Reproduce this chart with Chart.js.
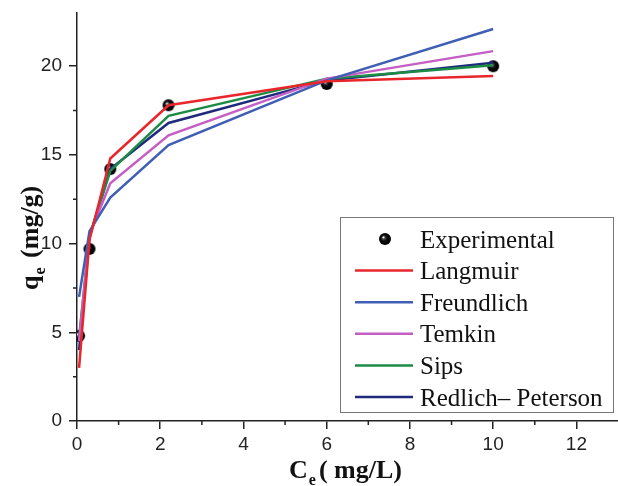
<!DOCTYPE html>
<html>
<head>
<meta charset="utf-8">
<script src="https://cdn.jsdelivr.net/npm/chart.js@4.4.0/dist/chart.umd.min.js"></script>
<style>
  html, body { margin: 0; padding: 0; background: #fff; }
</style>
</head>
<body>
<canvas id="chart" width="618" height="486"></canvas>
<script>
// Ce (mg/L) values where the data and model fits are given
const ce = [0.05, 0.3, 0.8, 2.2, 6, 10];
const experimental = [4.8, 9.7, 14.2, 17.8, 19.0, 20.0];
const langmuir = [3.0, 10.2, 14.8, 17.8, 19.15, 19.45];
const freundlich = [7.0, 10.7, 12.6, 15.55, 19.2, 22.1];
const temkin = [4.5, 10.5, 13.4, 16.1, 19.3, 20.85];
const sips = [4.7, 10.4, 14.1, 17.2, 19.3, 20.05];
const redlichPeterson = [4.0, 10.4, 14.2, 16.8, 19.2, 20.2];

const seriesLabels = ['Experimental', 'Langmuir', 'Freundlich', 'Temkin', 'Sips', 'Redlich\u2013 Peterson'];
const seriesColors = ['#000000', '#e8262c', '#3f5fb5', '#c55ec5', '#1d8b45', '#1f2a7d'];

const xTicks = [0, 2, 4, 6, 8, 10, 12];
const xMinor = [1, 3, 5, 7, 9, 11];
const yTicks = [0, 5, 10, 15, 20];
const yMinor = [2.5, 7.5, 12.5, 17.5];

const toPoints = (ys) => ce.map((x, i) => ({ x: x, y: ys[i] }));

// shaded black ball used for the experimental points
function makeBall(r) {
    const c = document.createElement('canvas');
    c.width = c.height = r * 2 + 2;
    const g = c.getContext('2d');
    const cx = r + 1;
    const grad = g.createRadialGradient(cx - r * 0.3, cx - r * 0.3, 0.3, cx, cx, r);
    grad.addColorStop(0, '#ffffff');
    grad.addColorStop(0.22, '#444444');
    grad.addColorStop(0.5, '#0a0a0a');
    grad.addColorStop(1, '#000000');
    g.fillStyle = grad;
    g.beginPath();
    g.arc(cx, cx, r, 0, Math.PI * 2);
    g.fill();
    return c;
}
const ball = makeBall(6);

function drawSub(ctx, base, sub, rest, x, y, size) {
    ctx.font = `bold ${size}px "Liberation Serif"`;
    ctx.fillText(base, x, y);
    let w = ctx.measureText(base).width + 1;
    ctx.font = `bold ${Math.round(size * 0.6)}px "Liberation Serif"`;
    ctx.fillText(sub, x + w, y + size * 0.28);
    w += ctx.measureText(sub).width + 3;
    ctx.font = `bold ${size}px "Liberation Serif"`;
    ctx.fillText(rest, x + w, y);
}

const decor = {
    id: 'decor',
    afterDraw(chart) {
        const ctx = chart.ctx;
        const xs = chart.scales.x, ys = chart.scales.y, a = chart.chartArea;
        ctx.save();

        // minor ticks
        ctx.strokeStyle = '#222';
        ctx.lineWidth = 1.5;
        ctx.beginPath();
        xMinor.forEach(v => {
            const px = xs.getPixelForValue(v);
            ctx.moveTo(px, a.bottom);
            ctx.lineTo(px, a.bottom + 4);
        });
        yMinor.forEach(v => {
            const py = ys.getPixelForValue(v);
            ctx.moveTo(a.left, py);
            ctx.lineTo(a.left - 4, py);
        });
        ctx.stroke();

        // axis titles
        ctx.fillStyle = '#111';
        ctx.textAlign = 'left';
        ctx.textBaseline = 'alphabetic';
        drawSub(ctx, 'C', 'e', '( mg/L)', 289, 478, 26);
        ctx.save();
        ctx.translate(38, 290);
        ctx.rotate(-Math.PI / 2);
        drawSub(ctx, 'q', 'e', ' (mg/g)', 0, 0, 26);
        ctx.restore();

        // legend box
        ctx.strokeStyle = '#777';
        ctx.lineWidth = 1;
        ctx.fillStyle = '#fff';
        ctx.fillRect(340.5, 217.5, 273, 195);
        ctx.strokeRect(340.5, 217.5, 273, 195);
        ctx.font = '25px "Liberation Serif"';
        chart.data.datasets.forEach((ds, i) => {
            const cy = 239 + i * 31.6;
            if (i === 0) {
                ctx.drawImage(ball, 385 - ball.width / 2, cy - ball.height / 2);
            } else {
                ctx.strokeStyle = ds.borderColor;
                ctx.lineWidth = 2.5;
                ctx.beginPath();
                ctx.moveTo(355, cy);
                ctx.lineTo(413, cy);
                ctx.stroke();
            }
            ctx.fillStyle = '#111';
            ctx.fillText(ds.label, 420, cy + 8.5);
        });
        ctx.restore();
    }
};

const lineSet = (i, ys) => ({
    label: seriesLabels[i],
    data: toPoints(ys),
    showLine: true,
    borderColor: seriesColors[i],
    backgroundColor: seriesColors[i],
    borderWidth: 2.5,
    pointRadius: 0,
    tension: 0,
    order: 0
});

new Chart(document.getElementById('chart').getContext('2d'), {
    type: 'scatter',
    data: {
        datasets: [
            {
                label: seriesLabels[0],
                data: toPoints(experimental),
                showLine: false,
                pointStyle: ball,
                pointRadius: 6,
                borderColor: '#000',
                backgroundColor: '#000',
                order: 1
            },
            lineSet(1, langmuir),
            lineSet(2, freundlich),
            lineSet(3, temkin),
            lineSet(4, sips),
            lineSet(5, redlichPeterson)
        ]
    },
    options: {
        responsive: false,
        devicePixelRatio: 1,
        animation: false,
        layout: { autoPadding: false, padding: { top: 13, right: 0, left: 0, bottom: 0 } },
        plugins: {
            legend: { display: false },
            tooltip: { enabled: false }
        },
        scales: {
            x: {
                type: 'linear',
                min: 0,
                max: 13,
                afterBuildTicks: (s) => { s.ticks = xTicks.map(v => ({ value: v })); },
                afterFit: (s) => { s.height = 65; s.paddingLeft = 0; s.paddingRight = 0; },
                grid: { drawOnChartArea: false, tickLength: 8, color: '#222', lineWidth: 1.5 },
                border: { color: '#222', width: 1.5 },
                ticks: {
                    font: { family: 'Liberation Sans', size: 19 },
                    color: '#222',
                    padding: 4,
                    maxRotation: 0,
                    autoSkip: false
                }
            },
            y: {
                type: 'linear',
                min: 0,
                max: 23,
                afterBuildTicks: (s) => { s.ticks = yTicks.map(v => ({ value: v })); },
                afterFit: (s) => { s.width = 77; s.paddingTop = 0; s.paddingBottom = 0; },
                grid: { drawOnChartArea: false, tickLength: 8, color: '#222', lineWidth: 1.5 },
                border: { color: '#222', width: 1.5 },
                ticks: {
                    font: { family: 'Liberation Sans', size: 19 },
                    color: '#222',
                    padding: 7,
                    autoSkip: false
                }
            }
        }
    },
    plugins: [decor]
});
</script>
</body>
</html>
